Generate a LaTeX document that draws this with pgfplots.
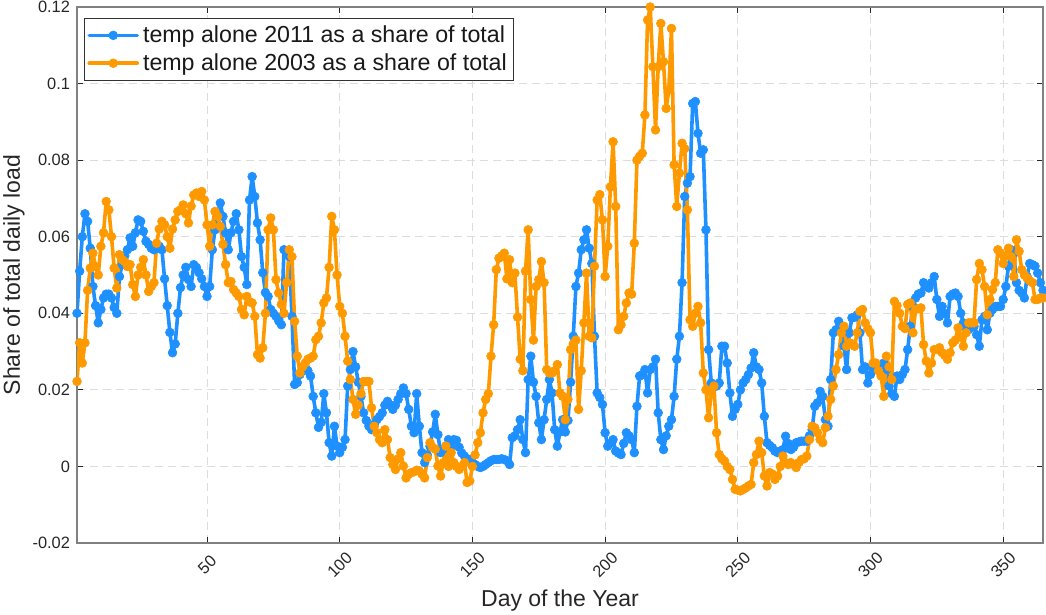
\documentclass[border=0pt]{standalone}
\usepackage{fontspec}
\setmainfont{Liberation Sans}
\usepackage{pgfplots}
\pgfplotsset{compat=1.18}
\definecolor{cblue}{RGB}{30,144,255}
\definecolor{corange}{RGB}{255,153,0}
\definecolor{axgray}{RGB}{128,128,128}
\definecolor{gridgray}{RGB}{220,220,220}
\definecolor{txt}{RGB}{38,38,38}
\begin{document}
\begin{tikzpicture}
\path[use as bounding box] (-38.5pt,-36pt) rectangle (484.5pt,271.5pt);
\begin{axis}[
  scale only axis, width=483pt, height=268pt,
  at={(0,0)}, anchor=south west,
  xmin=1, xmax=365, ymin=-0.02, ymax=0.12,
  xtick={50,100,150,200,250,300,350},
  ytick={-0.02,0,0.02,0.04,0.06,0.08,0.1,0.12},
  scaled y ticks=false,
  /pgf/number format/assume math mode=true,
  yticklabel style={/pgf/number format/fixed, /pgf/number format/precision=2, font=\fontsize{8.2}{9}\selectfont, text=txt},
  xticklabel style={yshift=-11pt, rotate=45, anchor=center, font=\fontsize{8.2}{9}\selectfont, text=txt},
  tick align=inside, major tick length=3pt,
  tick style={black!85, line width=0.5pt},
  axis line style={axgray, line width=0.6pt},
  grid=major,
  major grid style={gridgray, dash pattern=on 4pt off 2.5pt, line width=0.5pt},
  xlabel={Day of the Year},
  ylabel={Share of total daily load},
  xlabel style={at={(axis description cs:0.5,0)}, anchor=center, yshift=-29pt, font=\fontsize{11.5}{13}\selectfont, text=txt},
  ylabel style={at={(axis description cs:-0.0652,0.5)}, anchor=center, font=\fontsize{11.5}{13}\selectfont, text=txt},
  legend style={at={(axis description cs:0.0072,0.9795)}, anchor=north west, draw=black!80, line width=0.5pt, fill=white, font=\fontsize{11.6}{13}\selectfont, text=black!90, inner sep=1.5pt, row sep=0pt},
  legend cell align=left,
  legend image code/.code={\draw[mark repeat=2,mark phase=2,#1] plot coordinates {(0pt,0pt) (12pt,0pt) (24pt,0pt)};},
  every axis plot/.append style={line join=round, line cap=round},
]
\addplot[cblue, line width=1.8pt, mark=*, mark size=2.2pt, mark options={fill=cblue, draw=cblue, line width=0.3pt}] coordinates {
(1,0.040)(2,0.051)(3,0.060)(4,0.066)(5,0.064)(6,0.057)(7,0.047)(8,0.042)(9,0.0375)(10,0.041)
(11,0.044)(12,0.045)(13,0.045)(14,0.044)(15,0.0415)(16,0.040)(17,0.0496)(18,0.0527)(19,0.055)(20,0.0566)
(21,0.0597)(22,0.0575)(23,0.061)(24,0.0644)(25,0.064)(26,0.0614)(27,0.0588)(28,0.058)(29,0.057)(30,0.0566)
(31,0.057)(32,0.0575)(33,0.0566)(34,0.049)(35,0.042)(36,0.035)(37,0.0297)(38,0.032)(39,0.040)(40,0.0467)
(41,0.050)(42,0.052)(43,0.0488)(44,0.047)(45,0.0527)(46,0.052)(47,0.0506)(48,0.049)(49,0.047)(50,0.0444)
(51,0.047)(52,0.0566)(53,0.0618)(54,0.066)(55,0.0688)(56,0.0653)(57,0.061)(58,0.0566)(59,0.061)(60,0.064)
(61,0.066)(62,0.0618)(63,0.0548)(64,0.052)(65,0.0475)(66,0.0696)(67,0.0757)(68,0.0705)(69,0.0636)(70,0.0592)
(71,0.0506)(72,0.0454)(73,0.0444)(74,0.041)(75,0.040)(76,0.0392)(77,0.038)(78,0.037)(79,0.0566)(80,0.056)
(81,0.0548)(82,0.0392)(83,0.0214)(84,0.0219)(85,0.024)(86,0.025)(87,0.026)(88,0.025)(89,0.0236)(90,0.0183)
(91,0.014)(92,0.0102)(93,0.0115)(94,0.019)(95,0.014)(96,0.0062)(97,0.0027)(98,0.0105)(99,0.0053)(100,0.0036)
(101,0.005)(102,0.007)(103,0.021)(104,0.0253)(105,0.030)(106,0.026)(107,0.022)(108,0.0183)(109,0.014)(110,0.012)
(111,0.0105)(112,0.0096)(113,0.011)(114,0.0122)(115,0.013)(116,0.014)(117,0.016)(118,0.017)(119,0.016)(120,0.0149)
(121,0.016)(122,0.0175)(123,0.019)(124,0.0205)(125,0.019)(126,0.0149)(127,0.0105)(128,0.0088)(129,0.019)(130,0.0105)
(131,0.0036)(132,0.001)(133,0.003)(134,0.0053)(135,0.009)(136,0.0136)(137,0.0083)(138,0.0036)(139,0.0045)(140,0.0053)
(141,0.007)(142,0.005)(143,0.007)(144,0.0068)(145,0.005)(146,0.0035)(147,0.0027)(148,0.002)(149,0.0018)(150,0.001)
(151,0.0005)(152,0.0)(153,-0.0003)(154,0.0)(155,0.0005)(156,0.001)(157,0.0015)(158,0.0018)(159,0.0018)(160,0.0018)
(161,0.002)(162,0.0018)(163,0.0015)(164,0.0005)(165,0.0075)(166,0.008)(167,0.0096)(168,0.0122)(169,0.007)(170,0.0036)
(171,0.0227)(172,0.0288)(173,0.022)(174,0.0183)(175,0.0114)(176,0.007)(177,0.0122)(178,0.0175)(179,0.0227)(180,0.0192)
(181,0.0096)(182,0.0053)(183,0.009)(184,0.0122)(185,0.009)(186,0.012)(187,0.022)(188,0.034)(189,0.047)(190,0.0505)
(191,0.0566)(192,0.0592)(193,0.0618)(194,0.057)(195,0.053)(196,0.034)(197,0.0192)(198,0.018)(199,0.0162)(200,0.0088)
(201,0.0053)(202,0.006)(203,0.007)(204,0.004)(205,0.0035)(206,0.0031)(207,0.006)(208,0.0088)(209,0.008)(210,0.007)
(211,0.0036)(212,0.0157)(213,0.0236)(214,0.024)(215,0.0253)(216,0.0192)(217,0.0253)(218,0.026)(219,0.028)(220,0.014)
(221,0.007)(222,0.0044)(223,0.008)(224,0.0105)(225,0.0122)(226,0.0183)(227,0.028)(228,0.034)(229,0.048)(230,0.0705)
(231,0.074)(232,0.0757)(233,0.0948)(234,0.0953)(235,0.087)(236,0.0818)(237,0.0827)(238,0.0618)(239,0.0305)(240,0.0218)
(241,0.021)(242,0.021)(243,0.0218)(244,0.0314)(245,0.0314)(246,0.027)(247,0.0192)(248,0.0131)(249,0.0149)(250,0.0162)
(251,0.020)(252,0.0218)(253,0.0227)(254,0.024)(255,0.0257)(256,0.0297)(257,0.026)(258,0.0253)(259,0.0218)(260,0.0131)
(261,0.0062)(262,0.0055)(263,0.0049)(264,0.004)(265,0.0036)(266,0.004)(267,0.0044)(268,0.0079)(269,0.006)(270,0.0044)
(271,0.005)(272,0.0062)(273,0.0064)(274,0.0066)(275,0.0066)(276,0.0066)(277,0.008)(278,0.0096)(279,0.0157)(280,0.0166)
(281,0.0196)(282,0.0183)(283,0.0122)(284,0.0105)(285,0.0227)(286,0.0349)(287,0.0357)(288,0.0379)(289,0.035)(290,0.0314)
(291,0.0253)(292,0.0349)(293,0.0388)(294,0.039)(295,0.0396)(296,0.0349)(297,0.0253)(298,0.026)(299,0.0218)(300,0.024)
(301,0.0253)(302,0.0255)(303,0.0257)(304,0.026)(305,0.027)(306,0.0253)(307,0.021)(308,0.019)(309,0.0183)(310,0.0236)
(311,0.0227)(312,0.024)(313,0.0253)(314,0.0305)(315,0.0366)(316,0.0418)(317,0.044)(318,0.045)(319,0.0453)(320,0.048)
(321,0.047)(322,0.0466)(323,0.048)(324,0.0496)(325,0.0436)(326,0.0392)(327,0.0418)(328,0.040)(329,0.0375)(330,0.0444)
(331,0.045)(332,0.0453)(333,0.0444)(334,0.040)(335,0.0375)(336,0.036)(337,0.0357)(338,0.0366)(339,0.0366)(340,0.0344)
(341,0.0314)(342,0.0383)(343,0.0392)(344,0.0357)(345,0.040)(346,0.041)(347,0.0418)(348,0.0418)(349,0.0418)(350,0.0436)
(351,0.047)(352,0.0523)(353,0.0566)(354,0.0557)(355,0.048)(356,0.046)(357,0.0453)(358,0.044)(359,0.0496)(360,0.053)
(361,0.0527)(362,0.0523)(363,0.0505)(364,0.048)(365,0.046)
};
\addlegendentry{temp alone 2011 as a share of total}
\addplot[corange, line width=1.8pt, mark=*, mark size=2.2pt, mark options={fill=corange, draw=corange, line width=0.3pt}] coordinates {
(1,0.0222)(2,0.0323)(3,0.027)(4,0.0323)(5,0.046)(6,0.0518)(7,0.0557)(8,0.0522)(9,0.050)(10,0.0575)
(11,0.061)(12,0.0692)(13,0.067)(14,0.060)(15,0.0518)(16,0.0466)(17,0.0553)(18,0.054)(19,0.0535)(20,0.0522)
(21,0.0527)(22,0.0475)(23,0.0444)(24,0.050)(25,0.052)(26,0.054)(27,0.050)(28,0.0457)(29,0.047)(30,0.048)
(31,0.0583)(32,0.062)(33,0.064)(34,0.0631)(35,0.060)(36,0.057)(37,0.062)(38,0.0644)(39,0.0666)(40,0.067)
(41,0.0683)(42,0.066)(43,0.0636)(44,0.068)(45,0.0709)(46,0.0714)(47,0.0705)(48,0.0718)(49,0.0696)(50,0.0631)
(51,0.0575)(52,0.0631)(53,0.0666)(54,0.0653)(55,0.0627)(56,0.058)(57,0.0527)(58,0.048)(59,0.0483)(60,0.0462)
(61,0.0453)(62,0.0444)(63,0.041)(64,0.0396)(65,0.0444)(66,0.043)(67,0.0427)(68,0.0392)(69,0.0292)(70,0.0283)
(71,0.031)(72,0.040)(73,0.0618)(74,0.0649)(75,0.0618)(76,0.0488)(77,0.0453)(78,0.0423)(79,0.040)(80,0.048)
(81,0.0566)(82,0.0548)(83,0.0379)(84,0.0288)(85,0.0244)(86,0.026)(87,0.027)(88,0.028)(89,0.0283)(90,0.0288)
(91,0.0331)(92,0.034)(93,0.0375)(94,0.0427)(95,0.044)(96,0.052)(97,0.0653)(98,0.0618)(99,0.050)(100,0.0418)
(101,0.040)(102,0.034)(103,0.0275)(104,0.0227)(105,0.0175)(106,0.0136)(107,0.016)(108,0.019)(109,0.0222)(110,0.0222)
(111,0.0222)(112,0.0153)(113,0.0105)(114,0.0088)(115,0.007)(116,0.0062)(117,0.0096)(118,0.007)(119,0.0023)(120,0.0005)
(121,-0.0008)(122,0.002)(123,0.0036)(124,0.0001)(125,-0.003)(126,-0.002)(127,-0.0016)(128,-0.0014)(129,-0.001)(130,-0.0012)
(131,-0.002)(132,-0.003)(133,0.0023)(134,0.0062)(135,0.005)(136,0.0045)(137,0.0001)(138,-0.0025)(139,0.001)(140,0.0053)
(141,0.0)(142,0.0036)(143,0.001)(144,0.0)(145,-0.0008)(146,0.0)(147,0.001)(148,-0.0042)(149,-0.0038)(150,0.0)
(151,0.003)(152,0.0062)(153,0.0088)(154,0.014)(155,0.0175)(156,0.019)(157,0.0288)(158,0.037)(159,0.0514)(160,0.0544)
(161,0.055)(162,0.0557)(163,0.049)(164,0.054)(165,0.048)(166,0.0505)(167,0.039)(168,0.028)(169,0.025)(170,0.051)
(171,0.0618)(172,0.0436)(173,0.033)(174,0.047)(175,0.0488)(176,0.0535)(177,0.048)(178,0.0253)(179,0.0244)(180,0.0244)
(181,0.025)(182,0.0266)(183,0.0192)(184,0.0183)(185,0.0122)(186,0.0175)(187,0.0305)(188,0.032)(189,0.033)(190,0.0149)
(191,0.025)(192,0.0375)(193,0.0505)(194,0.034)(195,0.0336)(196,0.0523)(197,0.0696)(198,0.071)(199,0.0644)(200,0.0496)
(201,0.0575)(202,0.073)(203,0.0848)(204,0.0679)(205,0.0357)(206,0.037)(207,0.0392)(208,0.0427)(209,0.0453)(210,0.045)
(211,0.0583)(212,0.080)(213,0.081)(214,0.0818)(215,0.0918)(216,0.1166)(217,0.120)(218,0.1044)(219,0.0879)(220,0.1044)
(221,0.1157)(222,0.1057)(223,0.0935)(224,0.0983)(225,0.1144)(226,0.0788)(227,0.0679)(228,0.0766)(229,0.0844)(230,0.083)
(231,0.067)(232,0.0383)(233,0.0366)(234,0.040)(235,0.0418)(236,0.0375)(237,0.0244)(238,0.020)(239,0.0127)(240,0.0192)
(241,0.021)(242,0.0088)(243,0.0031)(244,0.002)(245,0.0014)(246,0.0)(247,-0.0008)(248,-0.0034)(249,-0.006)(250,-0.0062)
(251,-0.0064)(252,-0.006)(253,-0.0056)(254,-0.0051)(255,-0.0047)(256,0.001)(257,0.0031)(258,0.0066)(259,0.0036)(260,-0.0025)
(261,-0.0051)(262,-0.0016)(263,-0.002)(264,-0.0034)(265,-0.0025)(266,0.0)(267,0.0027)(268,0.001)(269,0.0005)(270,0.001)
(271,0.0005)(272,-0.0003)(273,0.001)(274,0.0018)(275,0.002)(276,0.0027)(277,0.007)(278,0.0105)(279,0.0101)(280,0.0088)
(281,0.007)(282,0.0062)(283,0.0101)(284,0.0131)(285,0.0175)(286,0.021)(287,0.0253)(288,0.0292)(289,0.0349)(290,0.0366)
(291,0.0314)(292,0.0323)(293,0.032)(294,0.0314)(295,0.0349)(296,0.0405)(297,0.041)(298,0.0375)(299,0.036)(300,0.0349)
(301,0.027)(302,0.027)(303,0.025)(304,0.0236)(305,0.0183)(306,0.0288)(307,0.026)(308,0.0227)(309,0.0431)(310,0.042)
(311,0.040)(312,0.0366)(313,0.036)(314,0.0423)(315,0.0427)(316,0.0349)(317,0.041)(318,0.0412)(319,0.0414)(320,0.0318)
(321,0.0275)(322,0.0244)(323,0.027)(324,0.0305)(325,0.0305)(326,0.031)(327,0.0297)(328,0.029)(329,0.028)(330,0.0297)
(331,0.0323)(332,0.033)(333,0.0362)(334,0.034)(335,0.0314)(336,0.0349)(337,0.0375)(338,0.0375)(339,0.0375)(340,0.0488)
(341,0.053)(342,0.0514)(343,0.047)(344,0.0396)(345,0.0436)(346,0.0462)(347,0.048)(348,0.0566)(349,0.0557)(350,0.053)
(351,0.055)(352,0.057)(353,0.0548)(354,0.0496)(355,0.0592)(356,0.0562)(357,0.0514)(358,0.050)(359,0.0492)(360,0.0485)
(361,0.048)(362,0.0436)(363,0.0436)(364,0.044)(365,0.044)
};
\addlegendentry{temp alone 2003 as a share of total}
\end{axis}
\end{tikzpicture}
\end{document}
